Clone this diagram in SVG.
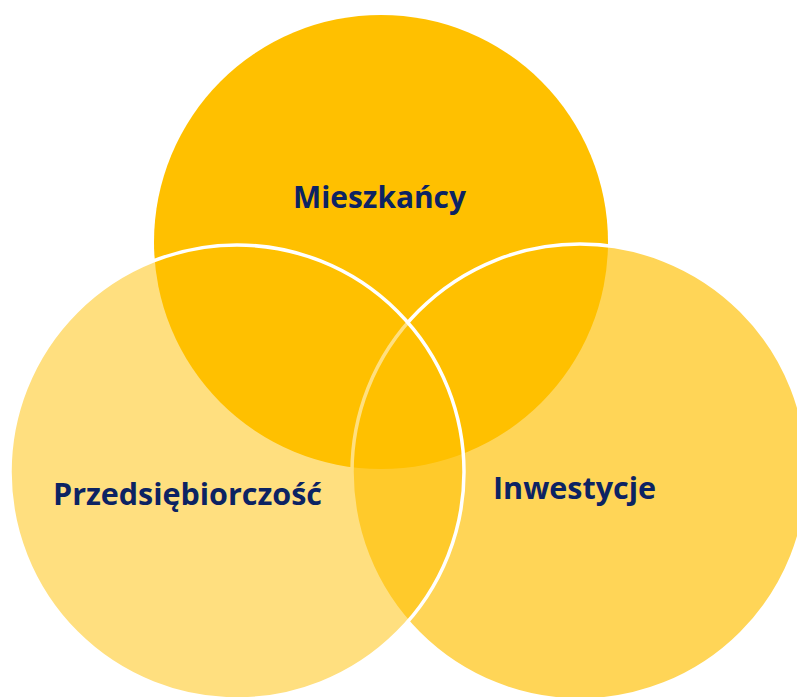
<svg xmlns="http://www.w3.org/2000/svg" width="797" height="697" viewBox="0 0 797 697">
<style>
.c{fill:#FFC000;stroke:#FFFFFF;stroke-width:3.5}
.t{font-family:"Open Sans","Noto Sans","Liberation Sans",sans-serif;font-weight:bold;font-size:30px;fill:#0C2363}
</style>
<rect width="797" height="697" fill="#FFFFFF"/>
<g id="mieszkancy">
<circle class="c" cx="381" cy="242" r="227" style="stroke:none"/>
</g>
<g id="inwestycje">
<circle class="c" cx="580" cy="472" r="228" style="fill-opacity:0.66"/>
</g>
<g id="przedsiebiorczosc">
<circle class="c" cx="237" cy="472" r="227" style="fill-opacity:0.5"/>
</g>
<g id="labels">
<text class="t" x="293" y="208" textLength="173" lengthAdjust="spacingAndGlyphs">Mieszkańcy</text>
<text class="t" x="53" y="505" textLength="269" lengthAdjust="spacingAndGlyphs">Przedsiębiorczość</text>
<text class="t" x="493" y="499" textLength="163" lengthAdjust="spacingAndGlyphs">Inwestycje</text>
</g>
</svg>
